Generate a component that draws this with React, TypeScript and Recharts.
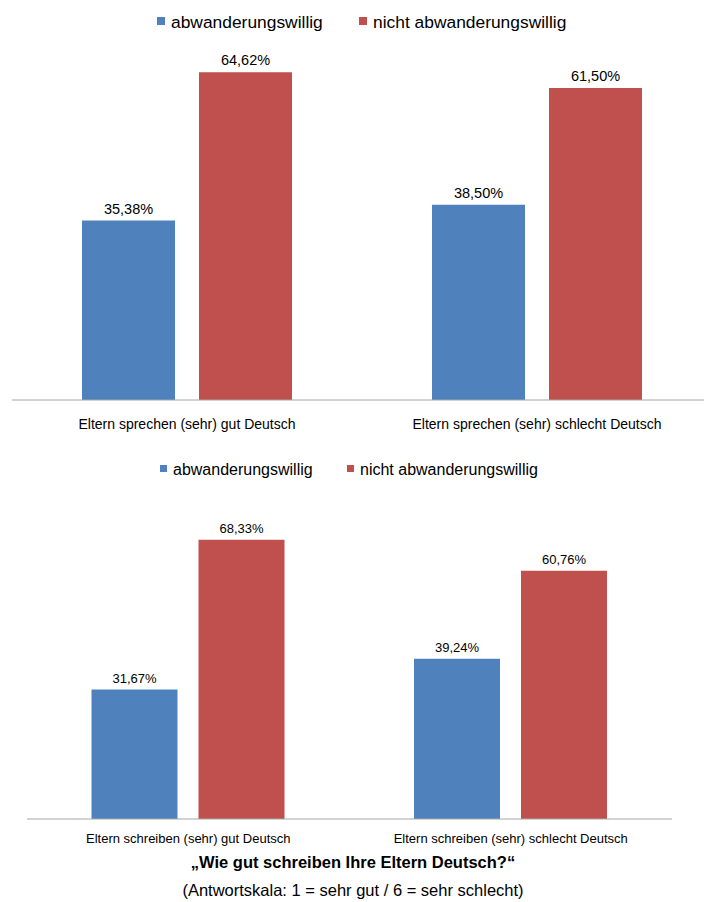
import { BarChart, Bar, XAxis, YAxis, LabelList } from 'recharts'

const seriesNames = ['abwanderungswillig', 'nicht abwanderungswillig']
const seriesColors = ['#4F81BD', '#C0504D']

const speakCategories = ['Eltern sprechen (sehr) gut Deutsch', 'Eltern sprechen (sehr) schlecht Deutsch']
const speakWilling = [35.38, 38.5]
const speakNotWilling = [64.62, 61.5]

const writeCategories = ['Eltern schreiben (sehr) gut Deutsch', 'Eltern schreiben (sehr) schlecht Deutsch']
const writeWilling = [31.67, 39.24]
const writeNotWilling = [68.33, 60.76]

const footerTitle = '„Wie gut schreiben Ihre Eltern Deutsch?“'
const footerNote = '(Antwortskala: 1 = sehr gut / 6 = sehr schlecht)'

const font = '"Liberation Sans", Arial, sans-serif'

const buildRows = (cats: string[], a: number[], b: number[]) =>
  cats.map((name, i) => ({ name, willing: a[i], notWilling: b[i] }))

const pct = (v: any) => Number(v).toFixed(2).replace('.', ',') + '%'

function Legend({ top, size, square, textX, redX }: { top: number; size: number; square: number; textX: number[]; redX: number }) {
  const squares = [textX[0] - square - 6, redX]
  return (
    <g>
      {seriesNames.map((n, i) => (
        <g key={n}>
          <rect x={squares[i]} y={top - square - 3} width={square} height={square} fill={seriesColors[i]} />
          <text x={textX[i]} y={top} fontSize={size} fill='#000'>{n}</text>
        </g>
      ))}
    </g>
  )
}

function GroupChart({ rows, width, height, margin, axisHeight, labelSize, tickSize, tickDy, barGap }: any) {
  const tick = (p: any) => (
    <text x={p.x} y={p.y + tickDy} textAnchor='middle' fontSize={tickSize} fill='#000'>
      {p.payload.value}
    </text>
  )
  return (
    <BarChart width={width} height={height} data={rows} margin={margin} barCategoryGap='20%' barGap={barGap}>
      <XAxis
        dataKey='name'
        height={axisHeight}
        tickLine={false}
        tickSize={0}
        tickMargin={0}
        axisLine={{ stroke: '#A6A6A6' }}
        tick={tick}
        interval={0}
      />
      <YAxis hide domain={[0, 70]} />
      <Bar dataKey='willing' fill={seriesColors[0]} isAnimationActive={false}>
        <LabelList dataKey='willing' position='top' offset={7} formatter={pct} fontSize={labelSize} fill='#000' />
      </Bar>
      <Bar dataKey='notWilling' fill={seriesColors[1]} isAnimationActive={false}>
        <LabelList dataKey='notWilling' position='top' offset={7} formatter={pct} fontSize={labelSize} fill='#000' />
      </Bar>
    </BarChart>
  )
}

export default function App() {
  const speakRows = buildRows(speakCategories, speakWilling, speakNotWilling)
  const writeRows = buildRows(writeCategories, writeWilling, writeNotWilling)

  return (
    <div
      style={{
        position: 'absolute',
        left: 0,
        top: 0,
        width: 704,
        height: 902,
        overflow: 'hidden',
        background: '#fff',
        fontFamily: font
      }}
    >
      <div style={{ position: 'absolute', left: 0, top: 0 }}>
        <GroupChart
          rows={speakRows}
          width={712}
          height={440}
          margin={{ top: 45, right: 0, left: 12, bottom: 0 }}
          axisHeight={40}
          labelSize={14.5}
          tickSize={14}
          tickDy={29}
          barGap={24}
        />
      </div>
      <div style={{ position: 'absolute', left: 0, top: 440 }}>
        <GroupChart
          rows={writeRows}
          width={704}
          height={420}
          margin={{ top: 93, right: 32, left: 27, bottom: 0 }}
          axisHeight={41}
          labelSize={13}
          tickSize={13}
          tickDy={24}
          barGap={21}
        />
      </div>
      <svg width={704} height={902} style={{ position: 'absolute', left: 0, top: 0, pointerEvents: 'none' }}>
        <Legend top={28} size={17.4} square={8} textX={[171, 373]} redX={359} />
        <Legend top={475} size={16} square={7} textX={[173, 360]} redX={347} />
        <text x={353} y={868} textAnchor='middle' fontSize={16.5} fontWeight='bold' fill='#000'>
          {footerTitle}
        </text>
        <text x={353} y={896} textAnchor='middle' fontSize={16.5} fill='#000'>
          {footerNote}
        </text>
      </svg>
    </div>
  )
}
